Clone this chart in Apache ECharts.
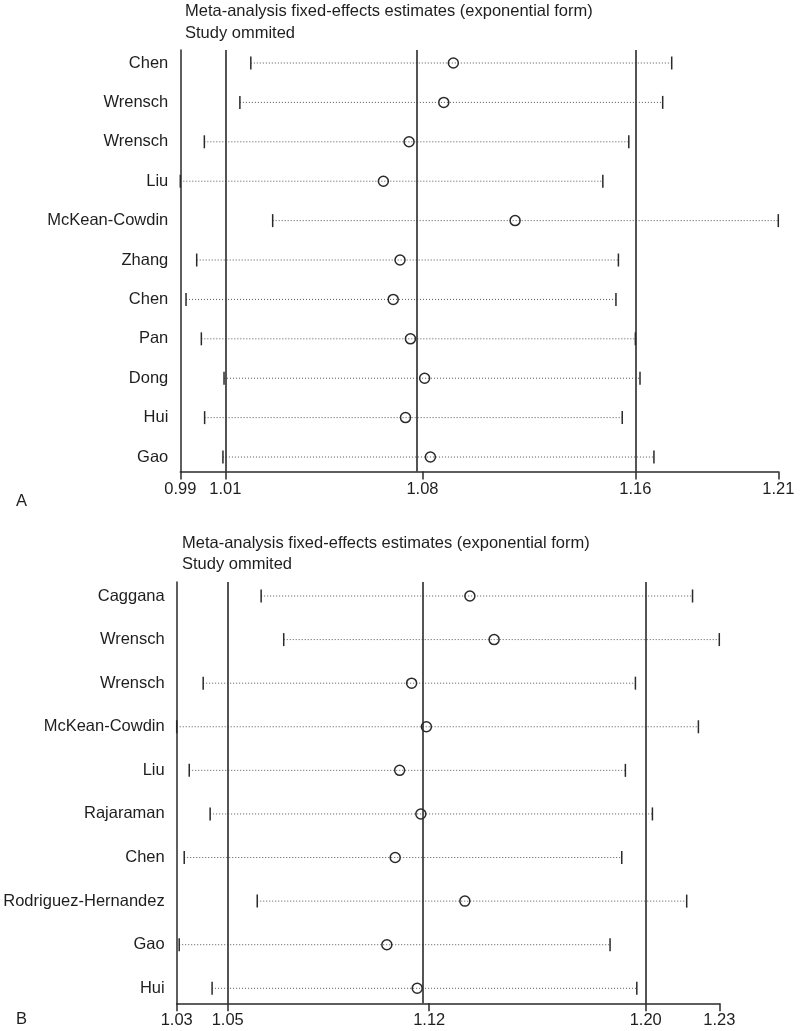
<!DOCTYPE html>
<html>
<head>
<meta charset="utf-8">
<title>Study omitted</title>
<script src="https://cdn.jsdelivr.net/npm/echarts@6/dist/echarts.min.js"></script>
<style>
  html, body { margin: 0; padding: 0; background: #fff; }
  #chart { width: 800px; height: 1031px; }
</style>
</head>
<body>
<div id="chart"></div>
<script>
// panel A
var studiesA = ['Chen', 'Wrensch', 'Wrensch', 'Liu', 'McKean-Cowdin', 'Zhang', 'Chen', 'Pan', 'Dong', 'Hui', 'Gao']
var lowerA = [1.0193, 1.0153, 1.0023, 0.9935, 1.0273, 0.9995, 0.9956, 1.0012, 1.0095, 1.0024, 1.0091]
var estA = [1.0934, 1.0899, 1.0772, 1.0678, 1.1160, 1.0739, 1.0714, 1.0777, 1.0829, 1.0759, 1.0850]
var upperA = [1.1733, 1.1700, 1.1576, 1.1481, 1.2123, 1.1538, 1.1529, 1.1600, 1.1617, 1.1552, 1.1668]
var refA = [1.0100, 1.0821, 1.1600]
var tickValsA = [0.9935, 1.0100, 1.0821, 1.1600, 1.2123]
var tickLabelsA = ['0.99', '1.01', '1.08', '1.16', '1.21']

// panel B
var studiesB = ['Caggana', 'Wrensch', 'Wrensch', 'McKean-Cowdin', 'Liu', 'Rajaraman', 'Chen', 'Rodriguez-Hernandez', 'Gao', 'Hui']
var lowerB = [1.0620, 1.0701, 1.0412, 1.0317, 1.0362, 1.0437, 1.0344, 1.0606, 1.0326, 1.0444]
var estB = [1.1369, 1.1456, 1.1160, 1.1213, 1.1117, 1.1193, 1.1101, 1.1351, 1.1071, 1.1180]
var upperB = [1.2168, 1.2264, 1.1963, 1.2189, 1.1927, 1.2024, 1.1914, 1.2147, 1.1872, 1.1968]
var refB = [1.0500, 1.1223, 1.2000]
var tickValsB = [1.0317, 1.0500, 1.1223, 1.2000, 1.2264]
var tickLabelsB = ['1.03', '1.05', '1.12', '1.20', '1.23']

var FONT = 'Liberation Sans, Arial, sans-serif'
var TXT = '#1e1e1e'
var LINE = '#2a2a2a'

function rows (lo, est, hi) {
  return lo.map(function (v, i) { return [v, est[i], hi[i], i + 1] })
}

function nearestLabel (vals, labels, v) {
  var best = 0
  vals.forEach(function (t, i) {
    if (Math.abs(t - v) < Math.abs(vals[best] - v)) best = i
  })
  return labels[best]
}

function renderRow (params, api) {
  var y = api.value(3)
  var lo = api.coord([api.value(0), y])
  var mid = api.coord([api.value(1), y])
  var hi = api.coord([api.value(2), y])
  var h = 6.5
  return {
    type: 'group',
    children: [
      { type: 'line', shape: { x1: lo[0], y1: lo[1], x2: hi[0], y2: hi[1] }, style: { stroke: '#555', lineWidth: 1, lineDash: [1, 2] } },
      { type: 'line', shape: { x1: lo[0], y1: lo[1] - h, x2: lo[0], y2: lo[1] + h }, style: { stroke: LINE, lineWidth: 1.5 } },
      { type: 'line', shape: { x1: hi[0], y1: hi[1] - h, x2: hi[0], y2: hi[1] + h }, style: { stroke: LINE, lineWidth: 1.5 } },
      { type: 'circle', shape: { cx: mid[0], cy: mid[1], r: 5 }, style: { fill: 'none', stroke: LINE, lineWidth: 1.5 } }
    ]
  }
}

function xAxisFor (gi, vals, labels) {
  return {
    type: 'value',
    gridIndex: gi,
    min: vals[0],
    max: vals[vals.length - 1],
    splitLine: { show: false },
    axisLine: { show: true, onZero: false, lineStyle: { color: LINE, width: 1.5 } },
    axisTick: { show: true, customValues: vals, length: 8, inside: false, lineStyle: { color: LINE, width: 1.5 } },
    axisLabel: {
      customValues: vals,
      margin: 9,
      color: TXT,
      fontSize: 16.5,
      fontFamily: FONT,
      formatter: function (v) { return nearestLabel(vals, labels, v) }
    }
  }
}

function yAxisFor (gi, names, min, max) {
  var idx = names.map(function (n, i) { return i + 1 })
  return {
    type: 'value',
    gridIndex: gi,
    inverse: true,
    min: min,
    max: max,
    splitLine: { show: false },
    axisLine: { show: true, onZero: false, lineStyle: { color: LINE, width: 1.5 } },
    axisTick: { show: false },
    axisLabel: {
      customValues: idx,
      margin: 12,
      color: TXT,
      fontSize: 16.5,
      fontFamily: FONT,
      formatter: function (v) { return names[Math.round(v) - 1] }
    }
  }
}

function refLines (vals) {
  return {
    silent: true,
    symbol: 'none',
    label: { show: false },
    lineStyle: { color: LINE, width: 1.6, type: 'solid' },
    data: vals.map(function (v) { return { xAxis: v } })
  }
}

function titleText (x, y, text) {
  return {
    type: 'text',
    x: x,
    y: y,
    style: { text: text, fill: TXT, font: '16.5px ' + FONT, verticalAlign: 'middle' }
  }
}

var option = {
  animation: false,
  backgroundColor: '#fff',
  grid: [
    { left: 180.3, right: 21.7, top: 50, bottom: 559.4 },
    { left: 176.7, right: 80.7, top: 582, bottom: 27.7 }
  ],
  xAxis: [
    xAxisFor(0, tickValsA, tickLabelsA),
    xAxisFor(1, tickValsB, tickLabelsB)
  ],
  yAxis: [
    yAxisFor(0, studiesA, 0.67, 11.37),
    yAxisFor(1, studiesB, 0.679, 10.344)
  ],
  graphic: [
    titleText(185, 11, 'Meta-analysis fixed-effects estimates (exponential form)'),
    titleText(185, 33, 'Study ommited'),
    titleText(182, 543, 'Meta-analysis fixed-effects estimates (exponential form)'),
    titleText(182, 564, 'Study ommited'),
    titleText(16, 501, 'A'),
    titleText(16, 1019, 'B')
  ],
  series: [
    {
      type: 'custom',
      xAxisIndex: 0,
      yAxisIndex: 0,
      renderItem: renderRow,
      encode: { x: [0, 1, 2], y: 3 },
      data: rows(lowerA, estA, upperA),
      markLine: refLines(refA)
    },
    {
      type: 'custom',
      xAxisIndex: 1,
      yAxisIndex: 1,
      renderItem: renderRow,
      encode: { x: [0, 1, 2], y: 3 },
      data: rows(lowerB, estB, upperB),
      markLine: refLines(refB)
    }
  ]
}

var chart = echarts.init(document.getElementById('chart'), null, { renderer: 'canvas' })
chart.setOption(option)
</script>
</body>
</html>
